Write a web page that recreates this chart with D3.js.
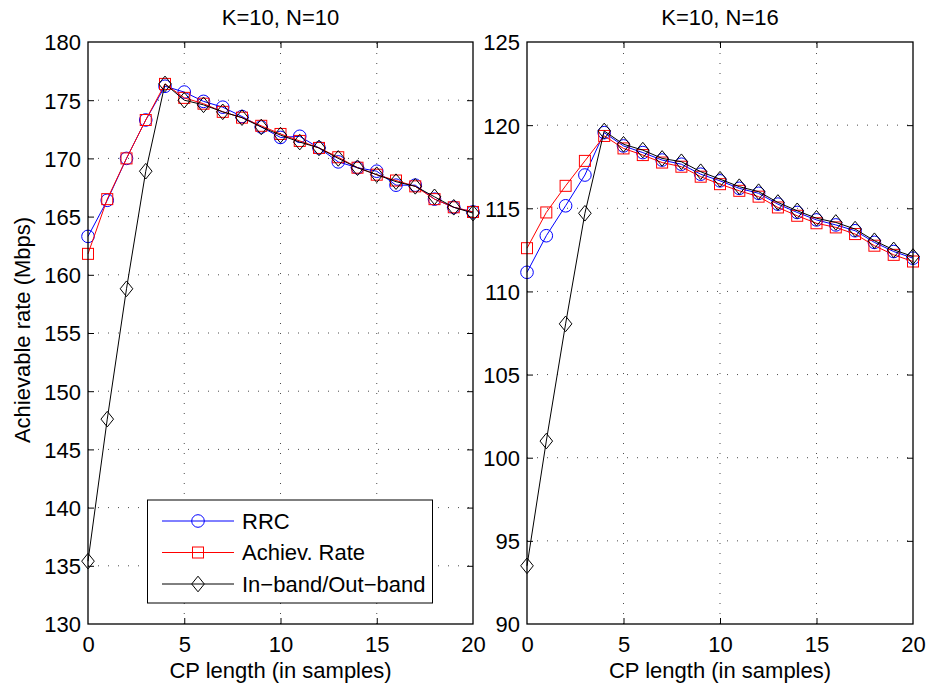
<!DOCTYPE html>
<html>
<head>
<meta charset="utf-8">
<script src="https://cdn.jsdelivr.net/npm/d3@7"></script>
<style>
  html, body { margin: 0; padding: 0; background: #fff; }
  svg { display: block; }
  text { font-family: "Liberation Sans", Arial, Helvetica, sans-serif; fill: #000; }
</style>
</head>
<body>
<svg id="chart" width="927" height="687"></svg>
<script>
// CP length (samples) shared by both panels
const cpLength = [0, 1, 2, 3, 4, 5, 6, 7, 8, 9, 10, 11, 12, 13, 14, 15, 16, 17, 18, 19, 20];

// K=10, N=10 — achievable rate (Mbps)
const rrcN10  = [163.3, 166.4, 170.0, 173.3, 176.2, 175.7, 174.9, 174.4, 173.6, 172.7, 171.8, 171.9, 170.9, 169.7, 169.2, 168.9, 167.7, 167.7, 166.5, 165.8, 165.4];
const rateN10 = [161.8, 166.5, 170.0, 173.3, 176.4, 175.2, 174.7, 174.0, 173.5, 172.8, 172.1, 171.5, 170.9, 170.1, 169.2, 168.6, 168.1, 167.6, 166.5, 165.8, 165.4];
const bandN10 = [135.4, 147.6, 158.8, 168.9, 176.4, 175.0, 174.6, 174.0, 173.5, 172.7, 172.0, 171.4, 170.9, 170.0, 169.2, 168.6, 168.0, 167.6, 166.7, 165.8, 165.3];

// K=10, N=16 — achievable rate (Mbps)
const rrcN16  = [111.15, 113.35, 115.15, 117.0, 119.55, 118.75, 118.35, 117.9, 117.65, 117.05, 116.65, 116.2, 115.9, 115.25, 114.75, 114.3, 114.0, 113.65, 112.95, 112.4, 112.0];
const rateN16 = [112.6, 114.75, 116.35, 117.85, 119.35, 118.6, 118.2, 117.75, 117.5, 116.9, 116.45, 116.05, 115.7, 115.05, 114.55, 114.1, 113.85, 113.45, 112.75, 112.2, 111.8];
const bandN16 = [93.5, 101.0, 108.05, 114.7, 119.65, 118.85, 118.5, 118.0, 117.8, 117.2, 116.75, 116.3, 116.0, 115.35, 114.85, 114.4, 114.15, 113.75, 113.05, 112.5, 112.1];

// Axis ticks
const xTicks = [0, 5, 10, 15, 20];
const yTicksN10 = [130, 135, 140, 145, 150, 155, 160, 165, 170, 175, 180];
const yTicksN16 = [90, 95, 100, 105, 110, 115, 120, 125];

// Series labels
const seriesNames = ["RRC", "Achiev. Rate", "In\u2212band/Out\u2212band"];
const panelTitles = ["K=10, N=10", "K=10, N=16"];

const svg = d3.select("#chart");
const FONT = 22;
const TICK = 6;

const styles = [
  { color: "#0000ff", marker: "circle" },
  { color: "#ff0000", marker: "square" },
  { color: "#000000", marker: "diamond" }
];

function drawMarker(g, type, cx, cy, color) {
  if (type === "circle") {
    g.append("circle").attr("cx", cx).attr("cy", cy).attr("r", 6.3)
      .attr("fill", "none").attr("stroke", color).attr("stroke-width", 1);
  } else if (type === "square") {
    g.append("rect").attr("x", cx - 5.5).attr("y", cy - 5.5)
      .attr("width", 11).attr("height", 11)
      .attr("fill", "none").attr("stroke", color).attr("stroke-width", 1);
  } else {
    const w = 6.3, h = 7.8;
    g.append("path")
      .attr("d", `M${cx},${cy - h}L${cx + w},${cy}L${cx},${cy + h}L${cx - w},${cy}Z`)
      .attr("fill", "none").attr("stroke", color).attr("stroke-width", 1);
  }
}

function panel(opts) {
  const { left, right, top, bottom, yDomain, yTicks, series, title } = opts;
  const x = d3.scaleLinear().domain([0, 20]).range([left, right]);
  const y = d3.scaleLinear().domain(yDomain).range([bottom, top]);
  const g = svg.append("g");

  // dotted grid
  const grid = g.append("g").attr("stroke", "#000").attr("stroke-width", 1)
    .attr("stroke-dasharray", "1,9").attr("opacity", 0.7);
  xTicks.slice(1, -1).forEach(t => {
    grid.append("line").attr("x1", x(t)).attr("x2", x(t)).attr("y1", bottom).attr("y2", top);
  });
  yTicks.slice(1, -1).forEach(t => {
    grid.append("line").attr("y1", y(t)).attr("y2", y(t)).attr("x1", left).attr("x2", right);
  });

  // axes with inward ticks (bottom/left labelled, top/right mirrored)
  const axB = d3.axisBottom(x).tickValues(xTicks).tickSizeInner(-TICK).tickSizeOuter(0);
  const axT = d3.axisTop(x).tickValues(xTicks).tickSizeInner(-TICK).tickSizeOuter(0).tickFormat("");
  const axL = d3.axisLeft(y).tickValues(yTicks).tickSizeInner(-TICK).tickSizeOuter(0);
  const axR = d3.axisRight(y).tickValues(yTicks).tickSizeInner(-TICK).tickSizeOuter(0).tickFormat("");

  const gb = g.append("g").attr("transform", `translate(0,${bottom})`).call(axB);
  const gt = g.append("g").attr("transform", `translate(0,${top})`).call(axT);
  const gl = g.append("g").attr("transform", `translate(${left},0)`).call(axL);
  const gr = g.append("g").attr("transform", `translate(${right},0)`).call(axR);
  [gb, gt, gl, gr].forEach(a => {
    a.select(".domain").remove();
    a.selectAll("line").attr("stroke", "#000").attr("stroke-width", 1);
    a.selectAll("text").attr("font-size", FONT)
      .attr("font-family", "Liberation Sans, Arial, sans-serif").attr("fill", "#000");
  });
  gb.selectAll("text").attr("dy", null).attr("y", 28);
  gl.selectAll("text").attr("x", -7).attr("dy", "0.36em");
  // keep the first/last tick marks from doubling the frame
  [gb, gt].forEach(a => a.selectAll(".tick").filter(d => d === 0 || d === 20).select("line").remove());
  [gl, gr].forEach(a => a.selectAll(".tick").filter((d, i) => i === 0 || i === yTicks.length - 1).select("line").remove());

  // data lines and markers
  series.forEach((vals, si) => {
    const st = styles[si];
    const line = d3.line().x((d, i) => x(cpLength[i])).y(d => y(d));
    const sg = g.append("g");
    sg.append("path").datum(vals).attr("d", line)
      .attr("fill", "none").attr("stroke", st.color).attr("stroke-width", 1);
    vals.forEach((v, i) => drawMarker(sg, st.marker, x(cpLength[i]), y(v), st.color));
  });

  // frame
  g.append("rect").attr("x", left).attr("y", top)
    .attr("width", right - left).attr("height", bottom - top)
    .attr("fill", "none").attr("stroke", "#000").attr("stroke-width", 1.3);

  // title and x label
  g.append("text").attr("x", (left + right) / 2).attr("y", 25)
    .attr("text-anchor", "middle").attr("font-size", FONT).text(title);
  g.append("text").attr("x", (left + right) / 2).attr("y", 678)
    .attr("text-anchor", "middle").attr("font-size", FONT).text("CP length (in samples)");

  return { x, y, g };
}

panel({
  left: 88, right: 473, top: 42, bottom: 624,
  yDomain: [130, 180], yTicks: yTicksN10,
  series: [rrcN10, rateN10, bandN10], title: panelTitles[0]
});
panel({
  left: 527, right: 913, top: 42, bottom: 624,
  yDomain: [90, 125], yTicks: yTicksN16,
  series: [rrcN16, rateN16, bandN16], title: panelTitles[1]
});

// y-axis label
svg.append("text")
  .attr("transform", "translate(30,330) rotate(-90)")
  .attr("text-anchor", "middle").attr("font-size", FONT)
  .text("Achievable rate (Mbps)");

// legend
const lg = svg.append("g");
lg.append("rect").attr("x", 147.5).attr("y", 500).attr("width", 285).attr("height", 103)
  .attr("fill", "#fff").attr("stroke", "#000").attr("stroke-width", 1);
const rowY = [521, 552.5, 584];
seriesNames.forEach((name, i) => {
  const st = styles[i];
  lg.append("line").attr("x1", 162).attr("x2", 234).attr("y1", rowY[i]).attr("y2", rowY[i])
    .attr("stroke", st.color).attr("stroke-width", 1);
  drawMarker(lg, st.marker, 198, rowY[i], st.color);
  lg.append("text").attr("x", 242).attr("y", rowY[i]).attr("dy", "0.36em")
    .attr("font-size", FONT).text(name);
});
</script>
</body>
</html>
